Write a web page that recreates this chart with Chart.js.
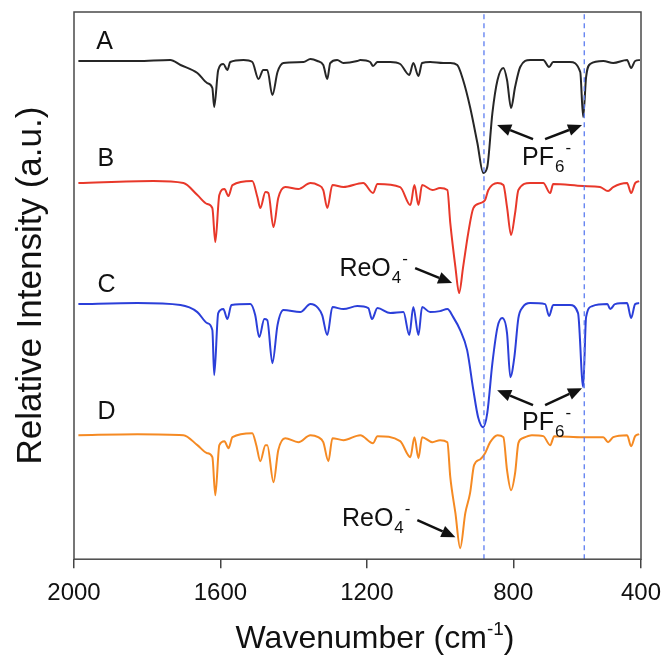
<!DOCTYPE html>
<html>
<head>
<meta charset="utf-8">
<script src="https://cdn.jsdelivr.net/npm/chart.js@4.4.0/dist/chart.umd.min.js"></script>
<style>
  html, body { margin: 0; padding: 0; background: #fff; }
</style>
</head>
<body>
<canvas id="irChart" width="661" height="660"></canvas>
<script>
// wavenumbers (cm-1) and relative intensity (a.u.)
const waveA = [1988,1827,1737,1709,1663,1636,1622,1617,1606,1592,1581,1573,1537,1513,1496,1483,1472,1458,1444,1428,1373,1354,1335,1319,1308,1300,1281,1264,1226,1218,1191,1183,1171,1136,1109,1084,1073,1059,1049,1027,991,972,953,937,918,898,882,871,857,843,827,817,806,795,781,754,718,702,691,645,617,609,601,590,554,527,489,478,467,454];
const intA  = [498,498,499,494,486,476,471,452,489,495,489,497,499,497,480,489,489,464,487,496,497,500,498,494,480,496,499,496,498,499,497,493,497,497,495,484,496,483,496,497,496,496,494,479,452,416,386,392,446,479,491,479,451,472,492,499,499,492,497,497,487,442,482,495,498,496,499,491,498,499];

const waveB = [1988,1783,1701,1663,1636,1622,1614,1603,1589,1578,1567,1513,1499,1491,1477,1469,1455,1442,1423,1387,1354,1333,1319,1308,1294,1264,1210,1183,1171,1109,1081,1070,1059,1049,1021,1000,980,972,958,948,937,923,909,890,877,868,843,827,817,806,795,786,754,718,699,691,609,563,541,527,489,478,467,456];
const intB  = [376,378,376,364,355,351,317,364,370,363,374,378,362,351,367,366,332,361,372,370,376,374,369,351,374,372,376,366,375,372,354,374,354,374,369,371,369,336,292,266,292,326,351,356,359,369,376,374,352,324,346,369,376,376,366,375,373,372,368,372,376,366,376,378];

const waveC = [1988,1827,1709,1663,1636,1622,1617,1606,1592,1581,1570,1518,1505,1494,1480,1472,1458,1444,1428,1382,1354,1333,1322,1308,1294,1264,1226,1196,1186,1171,1136,1100,1084,1073,1059,1049,1027,1000,980,964,945,926,909,896,882,871,857,843,830,817,808,797,786,774,754,713,702,691,645,623,609,601,584,543,535,522,489,478,467,456];
const intC  = [255,256,254,247,236,229,184,246,250,240,254,255,244,222,240,239,196,234,249,247,255,251,244,224,252,250,253,251,240,251,246,247,224,252,224,252,247,248,250,242,229,209,169,142,132,146,196,232,241,226,182,202,241,252,256,255,243,254,254,246,172,242,253,255,250,255,256,241,255,256];

const waveD = [1988,1827,1701,1663,1636,1622,1614,1603,1589,1578,1567,1513,1502,1491,1477,1472,1455,1442,1423,1387,1354,1333,1319,1305,1294,1264,1218,1183,1171,1109,1081,1070,1059,1049,1021,1000,980,972,958,945,931,918,907,890,877,863,843,827,817,806,795,786,774,749,718,699,688,609,554,541,527,489,478,467,456];
const intD  = [124,125,124,114,106,102,64,114,118,111,122,126,114,98,114,114,77,109,121,117,124,122,117,98,121,119,124,116,123,118,102,122,101,122,117,119,117,82,46,11,46,66,94,100,106,117,124,122,89,69,86,116,121,124,123,114,123,122,122,117,122,124,113,123,125];

// PF6- band positions marked with dashed lines
const markerWaves = [880, 606];

const tickValues = [2000, 1600, 1200, 800, 451];
const tickLabels = ['2000', '1600', '1200', '800', '400'];

const FONT = '"Liberation Sans", Arial, sans-serif';

function pts(xs, ys) {
    return xs.map((x, i) => ({ x: x, y: ys[i] }));
}

function spectrum(xs, ys, color) {
    return {
        data: pts(xs, ys),
        borderColor: color,
        borderWidth: 2,
        pointRadius: 0,
        cubicInterpolationMode: 'monotone',
        fill: false,
        order: 1
    };
}

const datasets = [
    spectrum(waveA, intA, '#262626'),
    spectrum(waveB, intB, '#e8382a'),
    spectrum(waveC, intC, '#2b3fd9'),
    spectrum(waveD, intD, '#f58a23')
];
markerWaves.forEach(w => {
    datasets.push({
        data: [{ x: w, y: 0 }, { x: w, y: 547 }],
        borderColor: '#5b7cf0',
        borderWidth: 1.3,
        borderDash: [5, 4],
        pointRadius: 0,
        order: 0
    });
});

// annotation layout (data coordinates)
const letters = [
    { t: 'A', x: 1939, y: 510 },
    { t: 'B', x: 1936, y: 393 },
    { t: 'C', x: 1936, y: 267 },
    { t: 'D', x: 1936, y: 140 }
];
const chemLabels = [
    { base: 'PF', sub: '6', sup: '-', x: 776, y: 394 },
    { base: 'PF', sub: '6', sup: '-', x: 776, y: 129 },
    { base: 'ReO', sub: '4', sup: '-', x: 1275, y: 283 },
    { base: 'ReO', sub: '4', sup: '-', x: 1268, y: 33 }
];
const arrows = [
    [746, 420, 844, 434],
    [713, 420, 612, 434],
    [746, 154, 844, 169],
    [713, 154, 612, 171],
    [1068, 291, 967, 276],
    [1062, 39, 958, 22]
];

function drawArrow(ctx, x1, y1, x2, y2) {
    const ang = Math.atan2(y2 - y1, x2 - x1);
    const len = 14, half = 6;
    const bx = x2 - len * Math.cos(ang), by = y2 - len * Math.sin(ang);
    ctx.beginPath();
    ctx.moveTo(x1, y1);
    ctx.lineTo(bx, by);
    ctx.lineWidth = 2.5;
    ctx.strokeStyle = '#111';
    ctx.stroke();
    ctx.beginPath();
    ctx.moveTo(x2, y2);
    ctx.lineTo(bx + half * Math.sin(ang), by - half * Math.cos(ang));
    ctx.lineTo(bx - half * Math.sin(ang), by + half * Math.cos(ang));
    ctx.closePath();
    ctx.fillStyle = '#111';
    ctx.fill();
}

const overlay = {
    id: 'overlay',
    afterDatasetsDraw(chart) {
        const ctx = chart.ctx;
        const xs = chart.scales.x, ys = chart.scales.y;
        const a = chart.chartArea;
        ctx.save();
        // frame
        ctx.strokeStyle = '#4a4a4a';
        ctx.lineWidth = 1.5;
        ctx.strokeRect(a.left, a.top, a.right - a.left, a.bottom - a.top);

        ctx.fillStyle = '#111';
        ctx.textBaseline = 'alphabetic';
        ctx.textAlign = 'left';
        ctx.font = '25px ' + FONT;
        letters.forEach(l => {
            ctx.fillText(l.t, xs.getPixelForValue(l.x), ys.getPixelForValue(l.y));
        });

        chemLabels.forEach(c => {
            let x = xs.getPixelForValue(c.x);
            const y = ys.getPixelForValue(c.y);
            ctx.font = '25px ' + FONT;
            ctx.fillText(c.base, x, y);
            x += ctx.measureText(c.base).width + 1;
            ctx.font = '17px ' + FONT;
            ctx.fillText(c.sub, x, y + 7);
            x += ctx.measureText(c.sub).width + 1;
            ctx.fillText(c.sup, x, y - 12);
        });

        arrows.forEach(r => {
            drawArrow(ctx, xs.getPixelForValue(r[0]), ys.getPixelForValue(r[1]),
                xs.getPixelForValue(r[2]), ys.getPixelForValue(r[3]));
        });

        // x axis title with superscript
        const big = '32px ' + FONT, small = '19px ' + FONT;
        const p1 = 'Wavenumber (cm', p2 = '-1', p3 = ')';
        ctx.font = big;
        const w1 = ctx.measureText(p1).width, w3 = ctx.measureText(p3).width;
        ctx.font = small;
        const w2 = ctx.measureText(p2).width;
        let tx = 375 - (w1 + w2 + w3) / 2;
        const ty = 648;
        ctx.font = big;
        ctx.fillText(p1, tx, ty);
        tx += w1;
        ctx.font = small;
        ctx.fillText(p2, tx, ty - 13);
        tx += w2;
        ctx.font = big;
        ctx.fillText(p3, tx, ty);
        ctx.restore();
    }
};

new Chart(document.getElementById('irChart').getContext('2d'), {
    type: 'line',
    data: { datasets: datasets },
    options: {
        responsive: false,
        animation: false,
        layout: { padding: { left: 10, top: 12, right: 20, bottom: 41 } },
        plugins: { legend: { display: false }, tooltip: { enabled: false } },
        scales: {
            x: {
                type: 'linear',
                reverse: true,
                min: 451,
                max: 2000,
                afterBuildTicks: axis => { axis.ticks = tickValues.map(v => ({ value: v })); },
                afterFit: axis => { axis.paddingLeft = 0; axis.paddingRight = 0; },
                ticks: {
                    autoSkip: false,
                    maxRotation: 0,
                    padding: 11,
                    color: '#111',
                    font: { family: FONT, size: 24 },
                    callback: (v, i) => tickLabels[i]
                },
                grid: { drawOnChartArea: false, drawTicks: true, tickLength: 9, color: '#444', lineWidth: 1.5 },
                border: { display: false }
            },
            y: {
                min: 0,
                max: 547,
                ticks: { display: false },
                grid: { display: false, drawTicks: false },
                border: { display: false },
                title: {
                    display: true,
                    text: 'Relative Intensity (a.u.)',
                    color: '#111',
                    font: { family: FONT, size: 35 },
                    padding: { top: 0, bottom: 22 }
                }
            }
        }
    },
    plugins: [overlay]
});
</script>
</body>
</html>
